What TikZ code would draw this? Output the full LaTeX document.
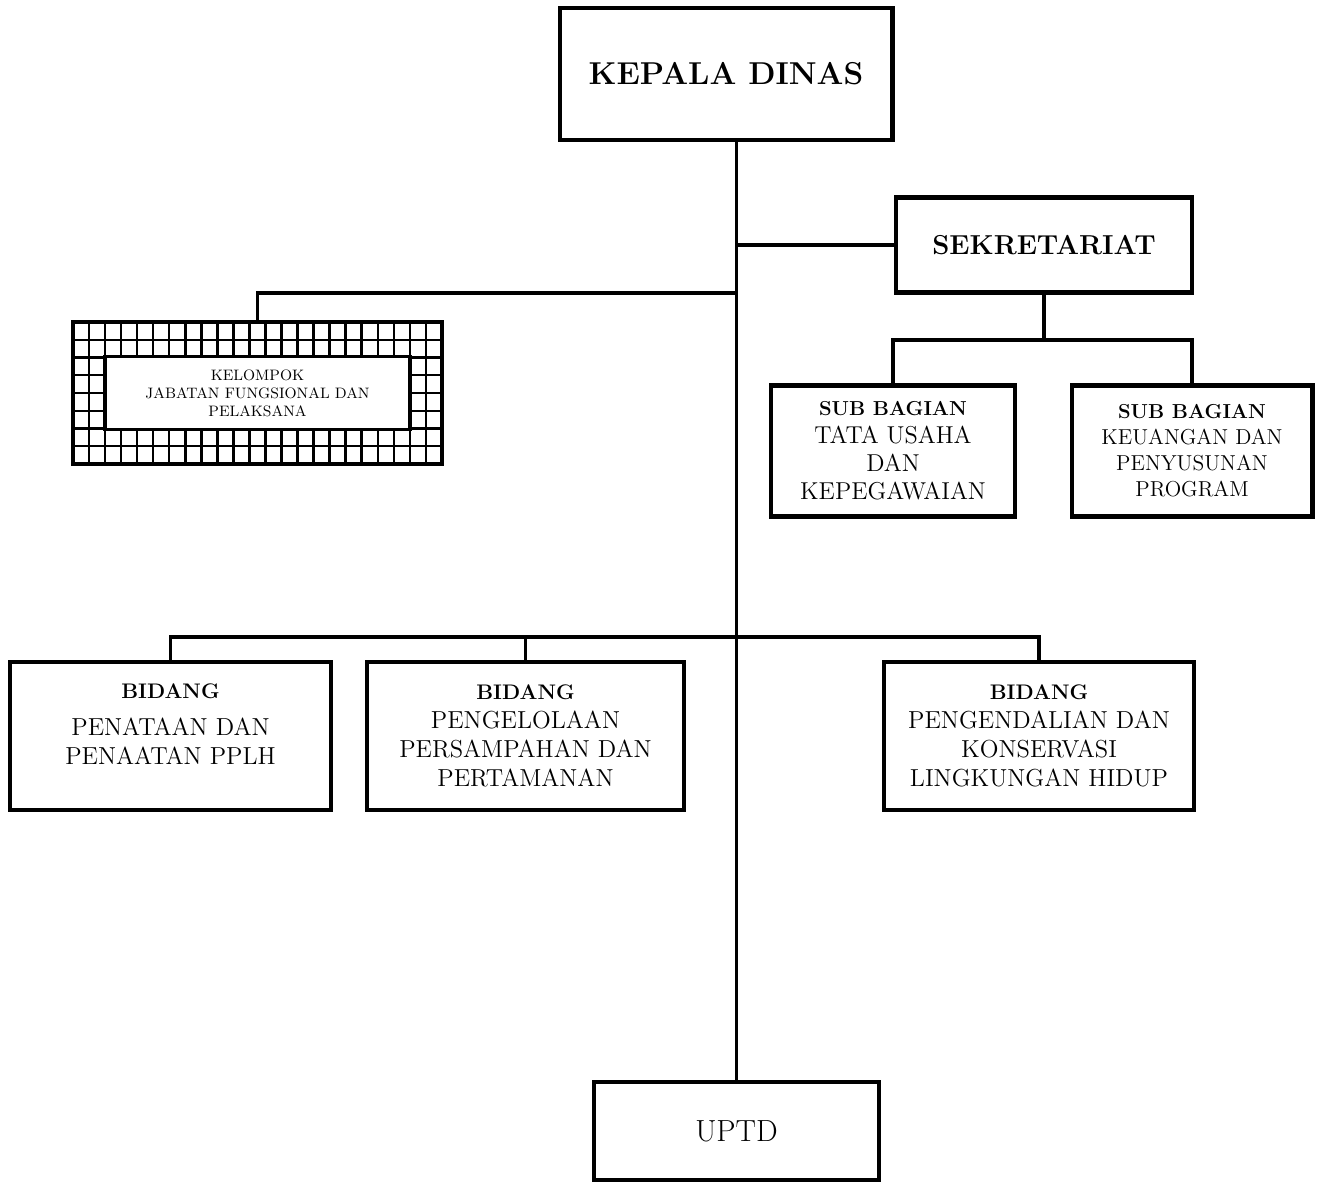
\documentclass[tikz,border=0pt]{standalone}
\usepackage{tikz}
\newcommand{\bidfont}{\fontsize{12}{14}\selectfont\bfseries}
\newcommand{\subfont}{\fontsize{11.5}{14}\selectfont\bfseries}

\begin{document}
\begin{tikzpicture}[x=0.02cm, y=-0.02cm, line width=2.1pt,
  box/.style = {draw, line width=2.3pt, align=center, inner sep=2pt},
  head/.style = {font=\fontsize{18}{20}\selectfont\bfseries},
  unit/.style = {font=\fontsize{14}{16.5}\selectfont},
  grp/.style = {draw, fill=white, line width=2pt, align=center,
    font=\fontsize{8.6}{10.2}\selectfont}]
\useasboundingbox (0,0) rectangle (1317,1182);

\node[box, head, minimum width=6.66cm, minimum height=2.64cm] (kd) at (726,74) {KEPALA DINAS};
\node[box, minimum width=5.92cm, minimum height=1.9cm, font=\fontsize{15.6}{17}\selectfont\bfseries] (sek) at (1044,245) {SEKRETARIAT};
\node[box, minimum width=4.88cm, minimum height=2.62cm, font=\fontsize{13.9}{15.9}\selectfont] (sb1) at (893,451) {{\subfont SUB BAGIAN}\\TATA USAHA\\DAN\\KEPEGAWAIAN};
\node[box, minimum width=4.82cm, minimum height=2.62cm, font=\fontsize{12.3}{14.8}\selectfont] (sb2) at (1192,451) {{\subfont SUB BAGIAN}\\KEUANGAN DAN\\PENYUSUNAN\\PROGRAM};

% kotak berpetak
\node[draw, line width=1.8pt, minimum width=7.38cm, minimum height=2.84cm] (kel) at (257.5,393) {};
\foreach \i in {1,...,22}
  \draw[line width=1.4pt] (73+\i*16.04,322) -- (73+\i*16.04,464);
\foreach \j in {1,...,7}
  \draw[line width=1.4pt] (73,322+\j*17.75) -- (442,322+\j*17.75);
\node[grp, minimum width=6.1cm, minimum height=1.46cm] (kelin) at (257.5,393) {KELOMPOK\\JABATAN FUNGSIONAL DAN\\PELAKSANA};

\node[box, unit, minimum width=6.42cm, minimum height=2.96cm] (b1) at (170.5,736) {{\bidfont BIDANG}\\[5pt]PENATAAN DAN\\PENAATAN PPLH\\[-3pt]};
\node[box, unit, minimum width=6.34cm, minimum height=2.96cm] (b2) at (525.5,736) {{\bidfont BIDANG}\\PENGELOLAAN\\PERSAMPAHAN DAN\\PERTAMANAN};
\node[box, unit, minimum width=6.2cm, minimum height=2.96cm] (b3) at (1039,736) {{\bidfont BIDANG}\\PENGENDALIAN DAN\\KONSERVASI\\LINGKUNGAN HIDUP};

\node[box, minimum width=5.7cm, minimum height=1.96cm, font=\fontsize{17.4}{20}\selectfont] (uptd) at (736.5,1131) {UPTD};

\coordinate (sj) at (1050,340);
\coordinate (kj) at (735,293);
\coordinate (bj) at (735,637);

\draw (kd.south -| uptd.north) -- (uptd.north);
\draw (sek.west) -- (sek.west -| uptd.north);
\draw (sek.south) -- (sek.south |- sj);
\draw (sb1.north) |- (sj) -| (sb2.north);
\draw (kel.north) |- (kj);
\draw (b1.north) |- (bj) -| (b3.north);
\draw (b2.north) -- (b2.north |- bj);
\end{tikzpicture}
\end{document}
